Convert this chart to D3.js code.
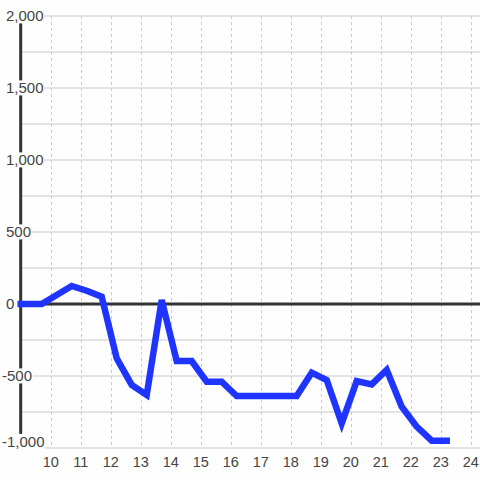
<!DOCTYPE html>
<html>
<head>
<meta charset="utf-8">
<script src="https://cdn.jsdelivr.net/npm/d3@7"></script>
<style>
  html, body { margin: 0; padding: 0; background: #fdfefd; }
  svg { display: block; }
  text { font-family: "Liberation Sans", Arial, sans-serif; }
</style>
</head>
<body>
<svg id="chart" width="480" height="480"></svg>
<script>
const xValues = [9.0, 9.2, 9.7, 10.2, 10.7, 11.2, 11.7, 12.2, 12.7, 13.2, 13.7, 14.2, 14.7, 15.2, 15.7, 16.2, 16.7, 17.2, 17.7, 18.2, 18.7, 19.2, 19.7, 20.2, 20.7, 21.2, 21.7, 22.2, 22.7, 23.2];
const yValues = [0, 0, 0, 62, 125, 92, 51, -377, -562, -632, 28, -396, -396, -540, -540, -639, -639, -639, -639, -639, -477, -528, -829, -535, -558, -458, -713, -852, -949, -949];
const xTicks = [10, 11, 12, 13, 14, 15, 16, 17, 18, 19, 20, 21, 22, 23, 24];
const yGrid = [-1000, -750, -500, -250, 0, 250, 500, 750, 1000, 1250, 1500, 1750, 2000];
const yLabels = [-1000, -500, 0, 500, 1000, 1500, 2000];

const svg = d3.select("#chart");
const x = d3.scaleLinear().domain([9, 24]).range([20.7, 470.7]);
const y = d3.scaleLinear().domain([-1000, 2000]).range([448, 16]);
const fmt = d3.format(",");

// horizontal grid
svg.append("g").selectAll("line").data(yGrid).join("line")
  .attr("x1", x(9)).attr("x2", 480)
  .attr("y1", d => y(d)).attr("y2", d => y(d))
  .attr("stroke", "#c8c8c8").attr("stroke-width", 1);

// vertical dashed grid
svg.append("g").selectAll("line").data(xTicks).join("line")
  .attr("x1", d => Math.round(x(d)) + 0.5).attr("x2", d => Math.round(x(d)) + 0.5)
  .attr("y1", y(2000)).attr("y2", y(-1000))
  .attr("stroke", "#cccccc").attr("stroke-width", 1)
  .attr("stroke-dasharray", "3,3");

// zero line
svg.append("line")
  .attr("x1", x(9)).attr("x2", 480)
  .attr("y1", y(0)).attr("y2", y(0))
  .attr("stroke", "#333").attr("stroke-width", 3);

// y axis line
svg.append("line")
  .attr("x1", x(9)).attr("x2", x(9))
  .attr("y1", y(2000)).attr("y2", y(-1000))
  .attr("stroke", "#333").attr("stroke-width", 3);

// y labels with background boxes
const yl = svg.append("g");
yLabels.forEach(v => {
  const g = yl.append("g");
  const ty = Math.min(y(v), 441.5);
  const t = g.append("text")
    .attr("x", v < 0 ? 2 : 6)
    .attr("y", ty)
    .attr("dy", "0.36em")
    .attr("font-size", 15)
    .attr("fill", "#444")
    .text(fmt(v).replace("−", "-"));
  const b = t.node().getBBox();
  g.insert("rect", "text")
    .attr("x", b.x - 1).attr("y", b.y + 1)
    .attr("width", b.width + 2).attr("height", b.height - 2)
    .attr("fill", "#fdfefd");
});

// x labels
svg.append("g").selectAll("text").data(xTicks).join("text")
  .attr("x", d => x(d))
  .attr("y", 467)
  .attr("text-anchor", "middle")
  .attr("font-size", 14.5)
  .attr("fill", "#444")
  .text(d => d);

// data line
const data = xValues.map((v, i) => [v, yValues[i]]);
svg.append("path")
  .datum(data)
  .attr("d", d3.line().x(d => x(d[0])).y(d => y(d[1])))
  .attr("fill", "none")
  .attr("stroke", "#1f35ff")
  .attr("stroke-width", 6.5)
  .attr("stroke-linejoin", "miter")
  .attr("stroke-linecap", "square");
</script>
</body>
</html>
